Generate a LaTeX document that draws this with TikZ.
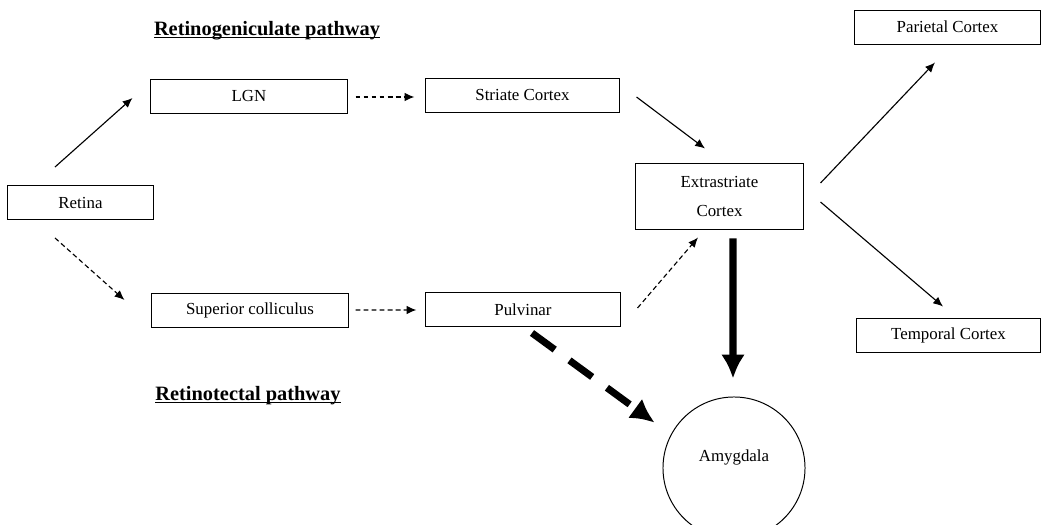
\documentclass[tikz,border=0pt]{standalone}
\usepackage{fontspec}
\setmainfont{Liberation Serif}
\usetikzlibrary{calc,positioning,arrows.meta}
\newcommand\pathuline[1]{\underline{\smash{#1}}}

\begin{document}
\begin{tikzpicture}[
        x=0.025cm,y=-0.025cm,
        every node/.append style={black,font=\fontsize{12}{14}\selectfont},
        box/.style={draw,line width=0.7pt,minimum height=0.85cm,inner sep=0pt},
        pathtitle/.style={font=\fontsize{14.5}{17}\selectfont\bfseries},
        conn/.style={line width=0.8pt,-{Latex[length=7pt,width=6pt]}},
        dconn/.style={conn,dash pattern=on 3.5pt off 2.2pt},
        bigconn/.style={line width=5pt,-{Latex[length=17pt,width=17pt]}},
        bigdconn/.style={bigconn,dash pattern=on 20pt off 13pt}
    ]
    \useasboundingbox (0,0) rectangle (1041,525);

    % titles
    \node[pathtitle] (genictitle) at (267,37) {\pathuline{Retinogeniculate pathway}};
    \node[pathtitle] (tectaltitle) at (248,402) {\pathuline{Retinotectal pathway}};

    % boxes
    \node[box,minimum width=3.625cm] (retina) at (80.5,202.5) {Retina};
    \node[box,minimum width=4.9cm] (lgn) at (249,96) {LGN};
    \node[box,minimum width=4.825cm] (striate) at (522.5,95) {Striate Cortex};
    \node[box,minimum width=4.9cm] (sc) at (250,310) {Superior colliculus};
    \node[box,minimum width=4.85cm] (pulvinar) at (523,309.5) {Pulvinar};
    \node[box,minimum width=4.175cm,minimum height=1.625cm,align=center] (extra) at (719.5,196.5) {Extrastriate\\[7pt]Cortex};
    \node[box,minimum width=4.625cm] (parietal) at (947.5,27) {Parietal Cortex};
    \node[box,minimum width=4.575cm] (temporal) at (948.5,335) {Temporal Cortex};
    \node[draw,circle,line width=0.7pt,minimum size=3.55cm,inner sep=0pt,text depth=18pt] (amygdala) at (734,468) {Amygdala};

    % connections
    \draw[conn] ($(retina.north)+(-25.5,-18)$) -- ($(lgn.west)+(-18,2)$);
    \draw[dconn] ($(retina.south)+(-25.5,18)$) -- ($(sc.west)+(-27,-10)$);
    \draw[dconn] ($(lgn.east)+(8,1)$) -- ($(striate.west)+(-11,2)$);
    \draw[dconn] ($(sc.east)+(7,0)$) -- ($(pulvinar.west)+(-9,0.5)$);
    \draw[conn] ($(striate.east)+(17,2)$) -- ($(extra.north)+(-14.5,-15)$);
    \draw[dconn] ($(pulvinar.east)+(17,-1.5)$) -- ($(extra.south)+(-21.5,8)$);
    \draw[conn] ($(extra.east)+(17,-13.5)$) -- ($(parietal.south)+(-12.5,18)$);
    \draw[conn] ($(extra.east)+(17,5.5)$) -- ($(temporal.north)+(-5.5,-11)$);
    \draw[bigconn] ($(extra.south)+(13.5,9)$) -- ($(amygdala.north)+(-1,-18)$);
    \draw[bigdconn] ($(pulvinar.south)+(9,6)$) -- ($(amygdala.north west)+(-28.8,5.2)$);
\end{tikzpicture}
\end{document}
